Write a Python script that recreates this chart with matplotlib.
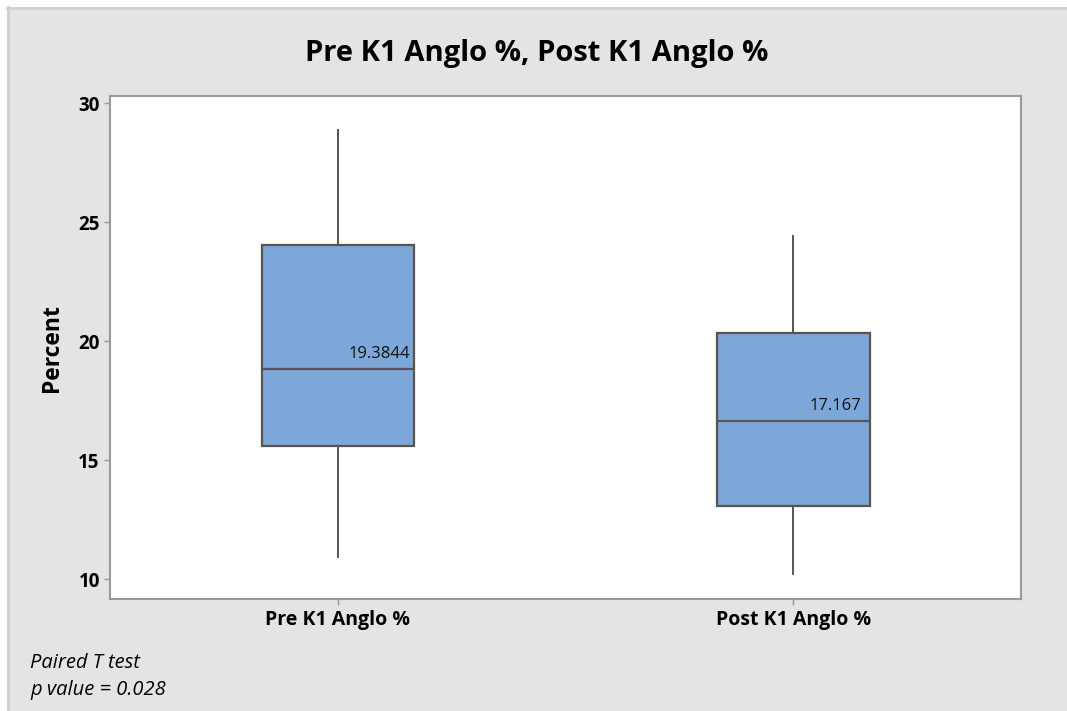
"""
Box plot of K1 Anglo % before and after, with means marked on the boxes.
Output: out.png
"""

import numpy as np
import matplotlib
matplotlib.use('Agg')
import matplotlib.pyplot as plt
from matplotlib.patches import Rectangle

plt.rcParams['font.family'] = ['Open Sans', 'DejaVu Sans']

groups = ['Pre K1 Anglo %', 'Post K1 Anglo %']
whisker_low = [10.94, 10.24]
q1 = [15.60, 13.10]
median = [18.86, 16.67]
q3 = [24.05, 20.35]
whisker_high = [28.89, 24.43]
means = [19.3844, 17.167]

BOX_FILL = '#7da7d9'
EDGE = '#555555'
BG = '#e4e4e4'


def main():
    fig = plt.figure(figsize=(10.67, 7.11), dpi=100)
    fig.patch.set_facecolor('white')

    # grey panel with a light rule along its top and left
    fig.patches.append(Rectangle((7 / 1067, 0), 1, 1 - 7 / 711,
                                 transform=fig.transFigure, facecolor=BG,
                                 edgecolor='none', zorder=-2))
    fig.add_artist(plt.Line2D([7 / 1067, 1], [1 - 7.5 / 711] * 2,
                              transform=fig.transFigure, color='#cfcfcf', lw=2))
    fig.add_artist(plt.Line2D([7.5 / 1067] * 2, [0, 1 - 7 / 711],
                              transform=fig.transFigure, color='#cfcfcf', lw=2))

    ax = fig.add_axes([0.1033, 0.1571, 0.8536, 0.7072])

    stats = []
    for i, name in enumerate(groups):
        stats.append({'label': name, 'whislo': whisker_low[i], 'q1': q1[i],
                      'med': median[i], 'q3': q3[i], 'whishi': whisker_high[i],
                      'fliers': []})

    positions = np.arange(1, len(groups) + 1)
    ax.bxp(stats, positions=positions, widths=0.335, patch_artist=True,
           showcaps=False,
           boxprops=dict(facecolor=BOX_FILL, edgecolor=EDGE, linewidth=1.6),
           medianprops=dict(color=EDGE, linewidth=1.6),
           whiskerprops=dict(color=EDGE, linewidth=1.4))

    # mean value written just above each median line
    for x, m, val in zip(positions, median, means):
        ax.annotate(f'{val:g}', xy=(x, m), xytext=(30, 5),
                    textcoords='offset points', ha='center', va='bottom',
                    fontsize=12, color='#111111')

    ax.set_xlim(0.5, 2.5)
    ax.set_ylim(9.164, 30.29)
    ax.set_yticks([10, 15, 20, 25, 30])
    ax.set_xticks(positions)
    ax.set_xticklabels(groups, fontsize=14, fontweight='bold')
    ax.tick_params(axis='y', labelsize=13.5)
    for lab in ax.get_yticklabels():
        lab.set_fontweight('bold')
    ax.tick_params(colors='#999999', labelcolor='black', length=4, width=1)
    ax.tick_params(axis='x', pad=4)
    ax.set_ylabel('Percent', fontsize=16.5, fontweight='bold', labelpad=10)

    for s in ax.spines.values():
        s.set_color('#9a9a9a')
        s.set_linewidth(1.5)

    fig.text(537 / 1067, 1 - 53 / 711, 'Pre K1 Anglo %, Post K1 Anglo %',
             ha='center', va='center', fontsize=21, fontweight='bold')
    fig.text(30 / 1067, 1 - 668 / 711, 'Paired T test', ha='left',
             va='baseline', fontsize=14.5, style='italic')
    fig.text(30 / 1067, 1 - 695 / 711, 'p value = 0.028', ha='left',
             va='baseline', fontsize=14.5, style='italic')

    fig.savefig('out.png', dpi=100, facecolor=fig.get_facecolor())
    plt.close(fig)


if __name__ == '__main__':
    main()
